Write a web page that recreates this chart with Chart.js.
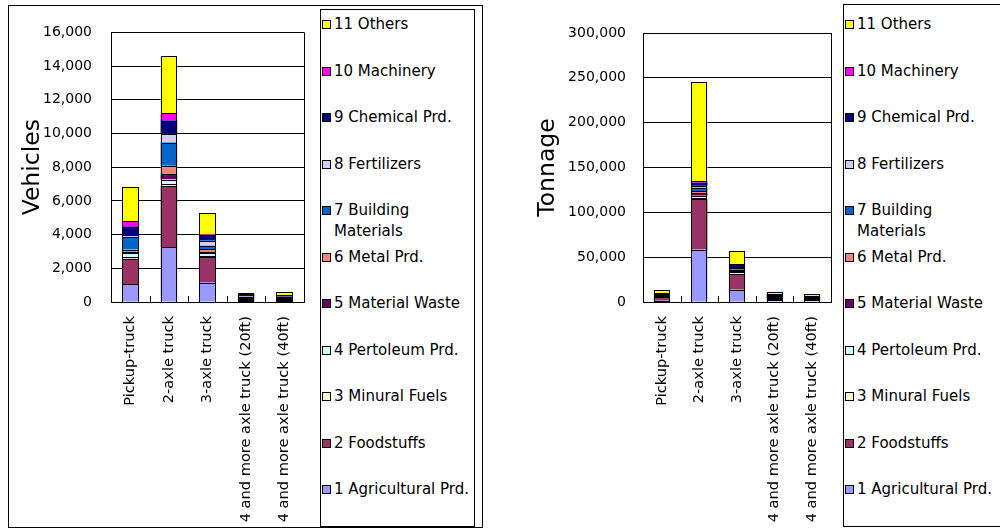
<!DOCTYPE html>
<html>
<head>
<meta charset="utf-8">
<script src="https://cdn.jsdelivr.net/npm/chart.js@4.4.0/dist/chart.umd.min.js"></script>
<style>
  html, body { margin: 0; padding: 0; background: #fff; width: 1000px; height: 531px; overflow: hidden; font-family: 'DejaVu Sans', sans-serif; }
  .frame { position: absolute; left: 8px; top: 5px; width: 473px; height: 521px; border: 1px solid #000; }
  canvas { position: absolute; }
  .legend { position: absolute; border: 1px solid #000; background: #fff; box-sizing: border-box; }
  .item { position: absolute; left: 1px; font-size: 15px; line-height: 20.7px; white-space: pre; padding-left: 12px; color: #000; }
  .sw { position: absolute; left: 0; top: 6px; width: 9px; height: 9px; border: 1px solid #000; box-sizing: border-box; }
</style>
</head>
<body>
<div class="frame"></div>
<canvas id="vehicles" width="480" height="522" style="left:8px;top:5px;width:480px;height:522px"></canvas>
<canvas id="tonnage" width="480" height="522" style="left:520px;top:5px;width:480px;height:522px"></canvas>
<div class="legend" id="legendVehicles" style="left:320px;top:9px;width:155px;height:518px"></div>
<div class="legend" id="legendTonnage" style="left:843px;top:4px;width:160px;height:523px"></div>

<script>
// Vehicle types on the x axis
const categories = [
  'Pickup-truck',
  '2-axle truck',
  '3-axle truck',
  '4 and more axle truck (20ft)',
  '4 and more axle truck (40ft)'
];

// Commodity groups, bottom of the stack first
const seriesNames = [
  '1 Agricultural Prd.',
  '2 Foodstuffs',
  '3 Minural Fuels',
  '4 Pertoleum Prd.',
  '5 Material Waste',
  '6 Metal Prd.',
  '7 Building\nMaterials',
  '8 Fertilizers',
  '9 Chemical Prd.',
  '10 Machinery',
  '11 Others'
];

const seriesColors = [
  '#9999FF', '#993366', '#FFFFCC', '#CCFFFF', '#660066', '#FF8080',
  '#0066CC', '#CCCCFF', '#000080', '#FF00FF', '#FFFF00'
];

// Number of vehicles by commodity
const vehAgricultural = [1070, 3240, 1150, 60, 60];
const vehFoodstuffs   = [1500, 3650, 1500, 40, 60];
const vehMinural      = [80, 110, 70, 20, 20];
const vehPetroleum    = [250, 270, 180, 20, 20];
const vehWaste        = [60, 310, 80, 60, 60];
const vehMetal        = [150, 500, 140, 20, 40];
const vehBuilding     = [720, 1380, 220, 60, 30];
const vehFertilizers  = [150, 510, 290, 40, 20];
const vehChemical     = [500, 800, 340, 140, 80];
const vehMachinery    = [300, 430, 30, 20, 20];
const vehOthers       = [2060, 3380, 1260, 30, 180];

// Tonnage by commodity
const tonAgricultural = [1500, 58500, 13800, 2500, 2000];
const tonFoodstuffs   = [4000, 56500, 17100, 800, 600];
const tonMinural      = [300, 1500, 500, 300, 200];
const tonPetroleum    = [500, 2000, 1500, 500, 300];
const tonWaste        = [500, 3000, 2000, 1500, 1000];
const tonMetal        = [500, 2000, 1000, 500, 500];
const tonBuilding     = [1000, 4000, 2000, 1000, 500];
const tonFertilizers  = [300, 2000, 1000, 300, 200];
const tonChemical     = [800, 3500, 3000, 1200, 800];
const tonMachinery    = [300, 1500, 500, 300, 200];
const tonOthers       = [3500, 110300, 14200, 2700, 2300];

const vehicleSeries = [vehAgricultural, vehFoodstuffs, vehMinural, vehPetroleum, vehWaste,
  vehMetal, vehBuilding, vehFertilizers, vehChemical, vehMachinery, vehOthers];
const tonnageSeries = [tonAgricultural, tonFoodstuffs, tonMinural, tonPetroleum, tonWaste,
  tonMetal, tonBuilding, tonFertilizers, tonChemical, tonMachinery, tonOthers];

// Value axis ranges
const vehicleAxisMax = 16000, vehicleAxisStep = 2000;
const tonnageAxisMax = 300000, tonnageAxisStep = 50000;

Chart.defaults.font.family = "'DejaVu Sans', sans-serif";
Chart.defaults.color = '#000';

// Crisp 1px outline around every stacked segment; neighbouring segments share one line
const segmentOutline = {
  id: 'segmentOutline',
  afterDatasetsDraw(chart) {
    const ctx = chart.ctx;
    ctx.save();
    ctx.strokeStyle = '#000';
    ctx.lineWidth = 1;
    chart.data.datasets.forEach((ds, i) => {
      chart.getDatasetMeta(i).data.forEach(bar => {
        const { x, y, base, width } = bar.getProps(['x', 'y', 'base', 'width'], true);
        const l = Math.round(x - width / 2) + 0.5;
        const r = Math.round(x + width / 2) - 0.5;
        const t = Math.round(y) + 0.5;
        const b = Math.round(base) + 0.5;
        ctx.strokeRect(l, Math.min(t, b), r - l, Math.abs(b - t));
      });
    });
    ctx.restore();
  }
};

// Right edge of the plot box plus short upward ticks between categories
const plotFrame = {
  id: 'plotFrame',
  afterDraw(chart) {
    const { ctx, chartArea: a, scales: { x } } = chart;
    ctx.save();
    ctx.strokeStyle = '#000';
    ctx.lineWidth = 1;
    const r = Math.round(a.right) + 0.5;
    ctx.beginPath();
    ctx.moveTo(r, a.top);
    ctx.lineTo(r, a.bottom);
    const n = x.ticks.length;
    for (let i = 1; i < n; i++) {
      const bx = Math.round((x.getPixelForValue(i - 1) + x.getPixelForValue(i)) / 2) + 0.5;
      ctx.moveTo(bx, a.bottom);
      ctx.lineTo(bx, a.bottom - 6);
    }
    ctx.stroke();
    ctx.restore();
  }
};

function buildChart(id, series, axisTitle, maxV, stepV, cfg) {
  const datasets = series.map((vals, i) => ({
    label: seriesNames[i].replace('\n', ' '),
    data: vals,
    backgroundColor: seriesColors[i],
    borderWidth: 0,
    barPercentage: 0.43,
    categoryPercentage: 1.0
  }));
  return new Chart(document.getElementById(id), {
    type: 'bar',
    data: { labels: categories, datasets },
    plugins: [segmentOutline, plotFrame],
    options: {
      responsive: false,
      animation: false,
      layout: { padding: { top: cfg.top, right: cfg.right, left: 0, bottom: 0 } },
      plugins: { legend: { display: false }, tooltip: { enabled: false } },
      scales: {
        x: {
          stacked: true,
          grid: { display: false, drawTicks: false },
          border: { display: true, color: '#000', width: 1 },
          ticks: { autoSkip: false, minRotation: 90, maxRotation: 90, padding: 14, font: { size: 14.6 }, color: '#000' },
          afterFit(scale) { scale.height = 225; }
        },
        y: {
          stacked: true,
          min: 0, max: maxV,
          ticks: {
            stepSize: stepV, padding: cfg.tickPad, font: { size: 14 }, color: '#000',
            callback: v => v.toLocaleString('en-US')
          },
          grid: { color: '#000', lineWidth: 1, drawTicks: false },
          border: { display: true, color: '#000', width: 1 },
          title: { display: true, text: axisTitle, font: { size: 23.5 }, color: '#000', padding: { top: cfg.titlePad, bottom: 0 } },
          afterFit(scale) { scale.width = cfg.axisWidth; }
        }
      }
    }
  });
}

buildChart('vehicles', vehicleSeries, 'Vehicles', vehicleAxisMax, vehicleAxisStep,
  { top: 27, right: 184, axisWidth: 103, tickPad: 19, titlePad: 11 });
buildChart('tonnage', tonnageSeries, 'Tonnage', tonnageAxisMax, tonnageAxisStep,
  { top: 28, right: 169, axisWidth: 123, tickPad: 17, titlePad: 14 });

// Legend boxes, top entry is the top of the stack
function buildLegend(id, boxTop) {
  const box = document.getElementById(id);
  const order = seriesNames.map((_, i) => i).reverse();
  order.forEach((si, row) => {
    const item = document.createElement('div');
    item.className = 'item';
    const center = 24.5 + row * 46.5;
    item.style.top = (center - 10.35 - boxTop - 1) + 'px';
    const sw = document.createElement('span');
    sw.className = 'sw';
    sw.style.background = seriesColors[si];
    item.appendChild(sw);
    item.appendChild(document.createTextNode(seriesNames[si]));
    box.appendChild(item);
  });
}
buildLegend('legendVehicles', 9);
buildLegend('legendTonnage', 4);
</script>
</body>
</html>
